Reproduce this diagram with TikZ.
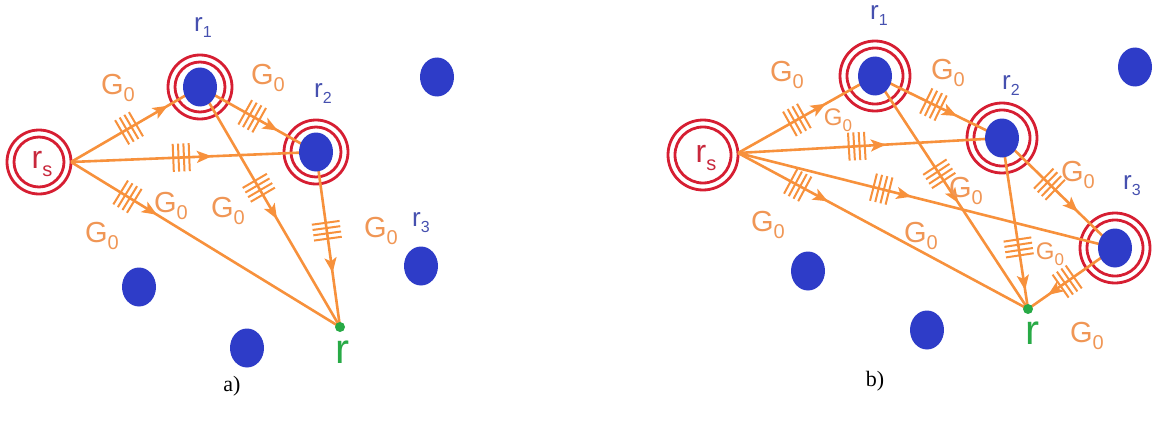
\documentclass[tikz,border=0pt]{standalone}
\usepackage{fontspec}
\setmainfont{Liberation Sans}
\newfontfamily\capfont{Liberation Serif}
\usetikzlibrary{arrows.meta,decorations.markings,shapes.geometric}
\pgfdeclarelayer{bg}
\pgfsetlayers{bg,main}
\definecolor{org}{RGB}{247,145,60}
\definecolor{glab}{RGB}{240,150,85}
\definecolor{ringred}{RGB}{214,30,50}
\definecolor{rslab}{RGB}{200,40,60}
\definecolor{dotblue}{RGB}{46,60,200}
\definecolor{labblue}{RGB}{70,80,175}
\definecolor{grn}{RGB}{40,170,70}
\newcommand\tickmarks{\draw[org,line width=2pt,line cap=butt]
  (-8pt,-14pt)--(-8pt,14pt) (-2.7pt,-14pt)--(-2.7pt,14pt)
  (2.7pt,-14pt)--(2.7pt,14pt) (8pt,-14pt)--(8pt,14pt);}
\newcommand\Gz{G\raisebox{-7pt}{\fontsize{20}{20}\selectfont 0}}
\newcommand\Gzs{G\raisebox{-6pt}{\fontsize{17}{17}\selectfont 0}}
\newcommand\rlab[1]{r\raisebox{-6pt}{\fontsize{16}{16}\selectfont #1}}
\tikzset{
  edge/.style 2 args={draw=org, line width=2.6pt, postaction={decorate,
    decoration={markings,
      mark=at position #1 with {\arrow[org]{Stealth[length=15pt,width=12pt,inset=3.5pt]}},
      mark=at position #2 with {\tickmarks}}}},
  ring/.style={draw=ringred, line width=2.8pt},
  dot/.style={ellipse, fill=dotblue, minimum width=34pt, minimum height=39pt, inner sep=0pt},
  gdot/.style={circle, fill=grn, minimum size=10pt, inner sep=0pt},
  glabel/.style={text=glab, font=\fontsize{29}{29}\selectfont, inner sep=0pt},
  glabelsm/.style={text=glab, font=\fontsize{24}{24}\selectfont, inner sep=0pt},
  rlabel/.style={text=labblue, font=\fontsize{26}{26}\selectfont, inner sep=0pt},
  rslabel/.style={text=rslab, font=\fontsize{32}{32}\selectfont, inner sep=0pt},
  glabelr/.style={text=grn, font=\fontsize{42}{42}\selectfont, inner sep=0pt},
  caption/.style={font=\capfont\fontsize{22}{22}\selectfont, inner sep=0pt},
}
\begin{document}
\begin{tikzpicture}[x=1pt,y=-1pt]
\useasboundingbox (0,0) rectangle (1154,428);
% ---------------- panel a ----------------
\node[rslabel] (a-rs) at (42,164) {r\raisebox{-8pt}{\fontsize{20}{20}\selectfont s}};
\coordinate (a-S) at (71,162);
\node[dot] (a-r1) at (200,87) {};
\node[dot] (a-r2) at (316,152) {};
\node[dot] (a-d1) at (437,77) {};
\node[dot] (a-d2) at (421,266) {};
\node[dot] (a-d3) at (139,287) {};
\node[dot] (a-d4) at (247,348) {};
\node[gdot] (a-r) at (340,327) {};
\begin{pgfonlayer}{bg}
\draw[ring] (39,162) circle[radius=32] (39,162) circle[radius=25];
\draw[ring] (a-r1.center) circle[radius=32] (a-r1.center) circle[radius=25];
\draw[ring] (a-r2.center) circle[radius=32] (a-r2.center) circle[radius=25];
\draw[edge={0.75}{0.45}] (a-S) -- (a-r1.center);
\draw[edge={0.67}{0.45}] (a-r1.center) -- (a-r2.center);
\draw[edge={0.575}{0.45}] (a-S) -- (a-r2.center);
\draw[edge={0.32}{0.21}] (a-S) -- (a-r.center);
\draw[edge={0.55}{0.42}] (a-r1.center) -- (a-r.center);
\draw[edge={0.69}{0.45}] (a-r2.center) -- (a-r.center);
\end{pgfonlayer}
\node[rlabel] (a-l1) at (203,28) {\rlab{1}};
\node[rlabel] (a-l2) at (323,94) {\rlab{2}};
\node[rlabel] (a-l3) at (421,223) {\rlab{3}};
\node[glabelr] (a-lr) at (342,352) {r};
\node[glabel] (a-g1) at (118,88) {\Gz};
\node[glabel] (a-g2) at (268,78) {\Gz};
\node[glabel] (a-g3) at (171,206) {\Gz};
\node[glabel] (a-g4) at (228,211) {\Gz};
\node[glabel] (a-g5) at (102,236) {\Gz};
\node[glabel] (a-g6) at (381,231) {\Gz};
\node[caption] (a-cap) at (232,386) {a)};
% ---------------- panel b ----------------
\node[rslabel] (b-rs) at (706,158) {r\raisebox{-8pt}{\fontsize{20}{20}\selectfont s}};
\coordinate (b-S) at (738,153);
\node[dot] (b-r1) at (875,76) {};
\node[dot] (b-r2) at (1002,138) {};
\node[dot] (b-r3) at (1115,248) {};
\node[dot] (b-d1) at (1135,67) {};
\node[dot] (b-d2) at (808,271) {};
\node[dot] (b-d3) at (927,330) {};
\node[gdot] (b-r) at (1028,309) {};
\begin{pgfonlayer}{bg}
\draw[ring] (703,155) circle[radius=35] (703,155) circle[radius=28];
\draw[ring] (b-r1.center) circle[radius=35] (b-r1.center) circle[radius=28];
\draw[ring] (b-r2.center) circle[radius=35] (b-r2.center) circle[radius=28];
\draw[ring] (b-r3.center) circle[radius=35] (b-r3.center) circle[radius=28];
\draw[edge={0.64}{0.43}] (b-S) -- (b-r1.center);
\draw[edge={0.645}{0.46}] (b-r1.center) -- (b-r2.center);
\draw[edge={0.56}{0.45}] (b-S) -- (b-r2.center);
\draw[edge={0.46}{0.38}] (b-S) -- (b-r3.center);
\draw[edge={0.31}{0.206}] (b-S) -- (b-r.center);
\draw[edge={0.545}{0.42}] (b-r1.center) -- (b-r.center);
\draw[edge={0.89}{0.64}] (b-r2.center) -- (b-r.center);
\draw[edge={0.67}{0.42}] (b-r2.center) -- (b-r3.center);
\draw[edge={0.77}{0.55}] (b-r3.center) -- (b-r.center);
\end{pgfonlayer}
\node[rlabel] (b-l1) at (879,16) {\rlab{1}};
\node[rlabel] (b-l2) at (1011,86) {\rlab{2}};
\node[rlabel] (b-l3) at (1132,186) {\rlab{3}};
\node[glabelr] (b-lr) at (1032,333) {r};
\node[glabel] (b-g1) at (787,75) {\Gz};
\node[glabel] (b-g2) at (948,73) {\Gz};
\node[glabelsm] (b-g3) at (838,120) {\Gzs};
\node[glabel] (b-g4) at (1078,175) {\Gz};
\node[glabel] (b-g5) at (966,191) {\Gz};
\node[glabel] (b-g6) at (768,225) {\Gz};
\node[glabel] (b-g7) at (921,236) {\Gz};
\node[glabelsm] (b-g8) at (1050,254) {\Gzs};
\node[glabel] (b-g9) at (1087,336) {\Gz};
\node[caption] (b-cap) at (875,381) {b)};
\end{tikzpicture}
\end{document}
